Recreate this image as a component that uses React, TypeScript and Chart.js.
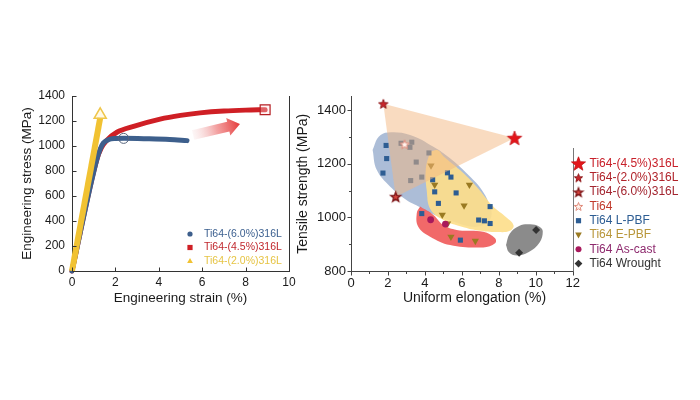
import React, { useEffect, useRef } from 'react';
import { Chart, registerables } from 'chart.js';
Chart.register(...registerables);

const FONT = "'Liberation Sans', Arial, Helvetica, sans-serif";

// ---------------- Left panel: engineering stress-strain curves ----------------
const curve6Strain = [0, 1.14, 1.3, 1.45, 1.7, 2.0, 2.4, 3.5, 4.5, 5.3];
const curve6Stress = [0, 890, 975, 1025, 1052, 1060, 1062, 1058, 1052, 1043];
const curve45Strain = [0, 1.14, 1.35, 1.6, 2.07, 2.84, 4.06, 5.0, 5.9, 7.0, 8.0, 8.9];
const curve45Stress = [0, 890, 985, 1045, 1110, 1157, 1215, 1245, 1265, 1280, 1287, 1290];
const curve20Strain = [0, 1.3];
const curve20Stress = [0, 1225];
const endMark6 = [2.38, 1061];
const endMark45 = [8.9, 1290];
const endMark20 = [1.3, 1250];
const arrowTail = [5.58, 1088];
const arrowTip = [7.74, 1176];
const leftXTicks = [0, 2, 4, 6, 8, 10];
const leftYTicks = [0, 200, 400, 600, 800, 1000, 1200, 1400];
const leftLegendLabels = ['Ti64-(6.0%)316L', 'Ti64-(4.5%)316L', 'Ti64-(2.0%)316L'];

// ---------------- Right panel: tensile strength vs uniform elongation ----------------
const lpbfX = [1.9, 1.93, 1.73, 2.71, 3.19, 3.29, 3.53, 3.83, 3.23, 4.22, 4.42, 4.53, 4.73, 3.83, 5.22, 5.41, 5.69, 7.53, 6.91, 7.22, 7.53, 5.92];
const lpbfY = [1268, 1219, 1165, 1276, 1261, 1280, 1206, 1150, 1137, 1240, 1140, 1095, 1052, 1014, 1166, 1150, 1091, 1040, 990, 987, 977, 915];
const epbfX = [4.33, 4.53, 6.41, 6.12, 4.94, 5.23, 5.41, 6.73];
const epbfY = [1193, 1121, 1121, 1044, 1009, 977, 927, 912];
const castX = [4.31, 5.11];
const castY = [991, 975];
const wroughtX = [10.02, 9.1];
const wroughtY = [953, 868];
const comp45 = [8.85, 1296];
const comp20 = [1.75, 1423];
const comp60 = [2.42, 1077];
const ti64Star = [2.9, 1272];

// shaded regions (outline points)
const triangleX = [1.75, 8.85, 2.42, 1.75];
const triangleY = [1423, 1296, 1077, 1423];
const blueRegionX = [1.17, 1.5, 2.0, 3.2, 4.46, 5.36, 6.26, 7.08, 7.53, 7.6, 7.3, 6.5, 5.5, 4.5, 3.74, 3.0, 2.11, 1.39, 1.17];
const blueRegionY = [1251, 1300, 1316, 1307, 1263, 1220, 1164, 1102, 1040, 1005, 975, 965, 985, 1010, 1038, 1065, 1115, 1177, 1251];
const yellowRegionX = [4.28, 4.7, 5.0, 5.9, 6.8, 7.7, 8.4, 8.8, 8.6, 8.0, 7.0, 6.0, 5.0, 4.3, 4.1, 4.05, 4.28];
const yellowRegionY = [1245, 1250, 1228, 1176, 1114, 1040, 1000, 970, 950, 945, 950, 965, 990, 1030, 1100, 1180, 1245];
const redRegionX = [3.74, 4.46, 5.0, 5.72, 7.16, 7.8, 7.8, 7.16, 5.36, 4.28, 3.64, 3.56, 3.74];
const redRegionY = [1040, 1009, 971, 953, 946, 922, 903, 888, 897, 928, 965, 1015, 1040];
const grayRegionX = [8.39, 8.6, 9.1, 9.69, 10.2, 10.38, 10.2, 9.6, 8.97, 8.55, 8.39];
const grayRegionY = [897, 940, 968, 974, 965, 947, 905, 870, 858, 870, 897];

const rightXTicks = [0, 2, 4, 6, 8, 10, 12];
const rightXMinor = [1, 3, 5, 7, 9, 11];
const rightYTicks = [800, 1000, 1200, 1400];
const rightYMinor = [900, 1100, 1300];
const rightLegendLabels = ['Ti64-(4.5%)316L', 'Ti64-(2.0%)316L', 'Ti64-(6.0%)316L', 'Ti64', 'Ti64 L-PBF', 'Ti64 E-PBF', 'Ti64 As-cast', 'Ti64 Wrought'];

const pts = (xs: number[], ys: number[]) => xs.map((x, i) => ({ x, y: ys[i] }));

function makeStar(R: number, fill: string, stroke: string, lw: number) {
  const pad = Math.ceil(lw) + 1;
  const s = Math.ceil(2 * R + 2 * pad);
  const c = document.createElement('canvas');
  c.width = s;
  c.height = s;
  const g = c.getContext('2d') as CanvasRenderingContext2D;
  const cx = s / 2;
  const cy = s / 2 + R * 0.095;
  g.beginPath();
  for (let i = 0; i < 10; i++) {
    const r = i % 2 === 0 ? R : R * 0.42;
    const a = -Math.PI / 2 + (i * Math.PI) / 5;
    g.lineTo(cx + r * Math.cos(a), cy + r * Math.sin(a));
  }
  g.closePath();
  g.fillStyle = fill;
  g.fill();
  if (lw > 0) {
    g.lineWidth = lw;
    g.strokeStyle = stroke;
    g.stroke();
  }
  return c;
}

function drawMarker(ctx: CanvasRenderingContext2D, kind: any, x: number, y: number, color: string, r: number) {
  ctx.save();
  ctx.fillStyle = color;
  ctx.beginPath();
  if (typeof kind !== 'string') {
    ctx.drawImage(kind, x - kind.width / 2, y - kind.height / 2);
    ctx.restore();
    return;
  }
  if (kind === 'circle') ctx.arc(x, y, r, 0, Math.PI * 2);
  else if (kind === 'rect') ctx.rect(x - r, y - r, 2 * r, 2 * r);
  else if (kind === 'triangle') {
    ctx.moveTo(x, y - r * 1.15);
    ctx.lineTo(x + r * 1.1, y + r * 0.8);
    ctx.lineTo(x - r * 1.1, y + r * 0.8);
  } else if (kind === 'triangleDown') {
    ctx.moveTo(x, y + r * 1.15);
    ctx.lineTo(x + r * 1.1, y - r * 0.8);
    ctx.lineTo(x - r * 1.1, y - r * 0.8);
  } else if (kind === 'diamond') {
    ctx.moveTo(x, y - r * 1.3);
    ctx.lineTo(x + r * 1.3, y);
    ctx.lineTo(x, y + r * 1.3);
    ctx.lineTo(x - r * 1.3, y);
  }
  ctx.closePath();
  ctx.fill();
  ctx.restore();
}

const mkTicksPlugin = (id: string, cfg: any) => ({
  id,
  afterDraw(chart: any) {
    const { ctx, chartArea: a, scales } = chart;
    ctx.save();
    ctx.strokeStyle = cfg.color;
    ctx.lineWidth = 1;
    const s = cfg.inward ? -1 : 1;
    const line = (x1: number, y1: number, x2: number, y2: number) => {
      ctx.beginPath();
      ctx.moveTo(x1, y1);
      ctx.lineTo(x2, y2);
      ctx.stroke();
    };
    const bottom = Math.round(a.bottom) + 0.5;
    const left = Math.round(a.left) + 0.5;
    ([[cfg.xMajor, cfg.major], [cfg.xMinor, cfg.minor]] as any[]).forEach(([vals, len]) =>
      vals.forEach((v: number) => {
        const x = Math.round(scales.x.getPixelForValue(v)) + 0.5;
        line(x, bottom, x, bottom + s * len);
      })
    );
    ([[cfg.yMajor, cfg.major], [cfg.yMinor, cfg.minor]] as any[]).forEach(([vals, len]) =>
      vals.forEach((v: number) => {
        const y = Math.round(scales.y.getPixelForValue(v)) + 0.5;
        line(left, y, left - s * len, y);
      })
    );
    if (cfg.rightBorder) {
      const r = Math.round(a.right) + 0.5;
      line(r, a.top, r, bottom);
    }
    ctx.restore();
  },
});

function axisFont(size: number) {
  return { family: FONT, size };
}

export default function App() {
  const leftRef = useRef<HTMLCanvasElement>(null);
  const rightRef = useRef<HTMLCanvasElement>(null);

  useEffect(() => {
    const BLUE = '#3d5f8c';
    const RED = '#cf1f25';
    const YELLOW = '#f1c232';

    const leftLegendPlugin = {
      id: 'leftExtras',
      afterDatasetsDraw(chart: any) {
        const { ctx, scales } = chart;
        // gradient arrow
        const x0 = scales.x.getPixelForValue(arrowTail[0]);
        const y0 = scales.y.getPixelForValue(arrowTail[1]);
        const x1 = scales.x.getPixelForValue(arrowTip[0]);
        const y1 = scales.y.getPixelForValue(arrowTip[1]);
        const L = Math.hypot(x1 - x0, y1 - y0);
        const ang = Math.atan2(y1 - y0, x1 - x0);
        ctx.save();
        ctx.translate(x0, y0);
        ctx.rotate(ang);
        const grad = ctx.createLinearGradient(0, 0, L, 0);
        grad.addColorStop(0, 'rgba(245,220,220,0.25)');
        grad.addColorStop(0.5, 'rgba(240,140,140,0.8)');
        grad.addColorStop(1, '#e53a3a');
        const hl = 12, sw = 10, hw = 18;
        ctx.beginPath();
        ctx.moveTo(0, -sw / 2);
        ctx.lineTo(L - hl, -sw / 2);
        ctx.lineTo(L - hl, -hw / 2);
        ctx.lineTo(L, 0);
        ctx.lineTo(L - hl, hw / 2);
        ctx.lineTo(L - hl, sw / 2);
        ctx.lineTo(0, sw / 2);
        ctx.closePath();
        ctx.fillStyle = grad;
        ctx.fill();
        ctx.restore();
        // legend
        const kinds = ['circle', 'rect', 'triangle'];
        const markColors = [BLUE, RED, YELLOW];
        const textColors = ['#3b5f8f', '#c0272d', '#e6c444'];
        ctx.save();
        ctx.font = `10.5px ${FONT}`;
        ctx.textBaseline = 'middle';
        leftLegendLabels.forEach((lab, i) => {
          const y = 234 + i * 13.5;
          drawMarker(ctx, kinds[i], 190, y, markColors[i], 2.6);
          ctx.fillStyle = textColors[i];
          ctx.fillText(lab, 204, y);
        });
        ctx.restore();
      },
    };

    const leftChart = new Chart(leftRef.current as HTMLCanvasElement, {
      type: 'line',
      data: {
        datasets: [
          { data: pts([endMark6[0]], [endMark6[1]]), showLine: false, pointStyle: 'circle', pointRadius: 5, borderColor: '#56637a', borderWidth: 1, backgroundColor: 'rgba(0,0,0,0)', order: 0, clip: false },
          { data: pts([endMark45[0]], [endMark45[1]]), showLine: false, pointStyle: 'rect', pointRadius: 7, borderColor: '#b51f24', borderWidth: 1.2, backgroundColor: 'rgba(255,220,220,0.35)', order: 0, clip: false },
          { data: pts([endMark20[0]], [endMark20[1]]), showLine: false, pointStyle: 'triangle', pointRadius: 7, borderColor: '#efc64a', borderWidth: 1.5, backgroundColor: 'rgba(255,245,215,0.6)', order: 0, clip: false },
          { data: pts(curve20Strain, curve20Stress), borderColor: YELLOW, borderWidth: 6, pointRadius: 0, borderCapStyle: 'butt', order: 1, clip: false },
          { data: pts(curve6Strain, curve6Stress), borderColor: BLUE, borderWidth: 5, pointRadius: 0, cubicInterpolationMode: 'monotone', borderCapStyle: 'round', order: 2, clip: false },
          { data: pts(curve45Strain, curve45Stress), borderColor: RED, borderWidth: 5, pointRadius: 0, cubicInterpolationMode: 'monotone', borderCapStyle: 'round', order: 3, clip: false },
        ] as any,
      },
      options: {
        responsive: false,
        animation: false,
        events: [],
        layout: { padding: { left: 0, top: 96, right: 11, bottom: 89 } },
        plugins: { legend: { display: false }, tooltip: { enabled: false } },
        scales: {
          x: {
            type: 'linear', min: 0, max: 10,
            afterFit: (s: any) => { s.height = 40; },
            afterBuildTicks: (s: any) => { s.ticks = leftXTicks.map((v) => ({ value: v })); },
            grid: { display: false, drawTicks: false },
            border: { display: true, color: '#333', width: 1 },
            ticks: { padding: 4, color: '#1a1a1a', font: axisFont(12), callback: (v: any) => String(v), maxRotation: 0 },
            title: { display: true, text: 'Engineering strain (%)', color: '#1a1a1a', font: axisFont(13.5), padding: { top: 0, bottom: 5 } },
          },
          y: {
            type: 'linear', min: 0, max: 1400,
            afterFit: (s: any) => { s.width = 72; },
            afterBuildTicks: (s: any) => { s.ticks = leftYTicks.map((v) => ({ value: v })); },
            grid: { display: false, drawTicks: false },
            border: { display: true, color: '#333', width: 1 },
            ticks: { padding: 7, color: '#1a1a1a', font: axisFont(12), callback: (v: any) => String(v) },
            title: { display: true, text: 'Engineering stress (MPa)', color: '#1a1a1a', font: axisFont(13.5), padding: { top: 19, bottom: 0 } },
          },
        },
      } as any,
      plugins: [
        leftLegendPlugin,
        mkTicksPlugin('leftTicks', { inward: true, color: '#333', major: 4, minor: 2, xMajor: leftXTicks, xMinor: [], yMajor: leftYTicks, yMinor: [], rightBorder: true }),
      ] as any,
    });

    // ---------------- right chart ----------------
    const star45 = makeStar(7.6, '#e3161b', '#c40f14', 0.8);
    const star20 = makeStar(4.9, '#c9262b', '#8e1a1c', 1);
    const star60 = makeStar(5.1, '#d8473f', '#7d1416', 1.4);
    const starTi = makeStar(4.8, '#fff4ee', '#e08a7a', 1);
    const lStar45 = makeStar(7.4, '#e3161b', '#c40f14', 0.8);
    const lStar20 = makeStar(4.4, '#c9262b', '#8e1a1c', 1);
    const lStar60 = makeStar(4.6, '#d8473f', '#7d1416', 1.3);
    const lStarTi = makeStar(4.4, '#fff4ee', '#e08a7a', 1);

    const region = (xs: number[], ys: number[], color: string, order: number, tension = 0.4) => ({
      data: pts(xs, ys), showLine: true, fill: 'shape', backgroundColor: color,
      borderColor: 'rgba(0,0,0,0)', borderWidth: 0, pointRadius: 0, tension, order,
    });
    const marks = (xs: number[], ys: number[], style: any, r: number, color: string, order: number, rotation = 0) => ({
      data: pts(xs, ys), showLine: false, pointStyle: style, pointRadius: r, pointRotation: rotation,
      backgroundColor: color, borderColor: color, borderWidth: 0, order, clip: false,
    });

    const rightExtras = {
      id: 'rightExtras',
      afterDraw(chart: any) {
        const { ctx, chartArea: a } = chart;
        ctx.save();
        // x axis title (offset as in the figure)
        ctx.font = `14px ${FONT}`;
        ctx.fillStyle = '#1a1a1a';
        ctx.textAlign = 'center';
        ctx.textBaseline = 'middle';
        ctx.fillText('Uniform elongation (%)', 474.5 - 285, 298);
        // legend frame edge
        const bx = Math.round(a.right) + 0.5;
        ctx.strokeStyle = '#777';
        ctx.lineWidth = 1;
        ctx.beginPath();
        ctx.moveTo(bx, 148);
        ctx.lineTo(bx, 272);
        ctx.stroke();
        // legend
        const kinds: any[] = [lStar45, lStar20, lStar60, lStarTi, 'rect', 'triangleDown', 'circle', 'diamond'];
        const mColors = ['', '', '', '', '#2d5d93', '#9a7a22', '#a8195c', '#333333'];
        const tColors = ['#c8202a', '#b0232a', '#a32530', '#c0392b', '#2d5d93', '#b8963a', '#8e2a6e', '#333333'];
        ctx.font = `12px ${FONT}`;
        ctx.textAlign = 'left';
        rightLegendLabels.forEach((lab, i) => {
          const y = 163.5 + i * 14.3;
          drawMarker(ctx, kinds[i], 293.5, y, mColors[i], kinds[i] === 'rect' ? 2.6 : 3);
          ctx.fillStyle = tColors[i];
          ctx.fillText(lab, 304.5, y);
        });
        ctx.restore();
      },
    };

    const rightChart = new Chart(rightRef.current as HTMLCanvasElement, {
      type: 'line',
      data: {
        datasets: [
          region(blueRegionX, blueRegionY, 'rgba(112,142,186,0.58)', 20),
          region(yellowRegionX, yellowRegionY, 'rgba(253,222,140,0.92)', 19),
          region(redRegionX, redRegionY, 'rgba(238,72,72,0.82)', 18),
          region(grayRegionX, grayRegionY, 'rgba(110,110,110,0.8)', 17),
          marks(lpbfX, lpbfY, 'rect', 3.6, '#2d5d93', 10),
          marks(epbfX, epbfY, 'triangle', 4.2, '#9a7a22', 9, 180),
          marks(castX, castY, 'circle', 3.4, '#a8195c', 8),
          marks(wroughtX, wroughtY, 'rectRot', 4, '#333333', 7),
          region(triangleX, triangleY, 'rgba(244,184,130,0.5)', 5, 0),
          marks([ti64Star[0]], [ti64Star[1]], starTi, 5, '#e08a7a', 3),
          marks([comp60[0]], [comp60[1]], star60, 5, '#a32530', 2),
          marks([comp20[0]], [comp20[1]], star20, 5, '#b0232a', 1),
          marks([comp45[0]], [comp45[1]], star45, 5, '#e3161b', 0),
        ] as any,
      },
      options: {
        responsive: false,
        animation: false,
        events: [],
        layout: { padding: { left: 0, top: 96.6, right: 127.3, bottom: 89 } },
        plugins: { legend: { display: false }, tooltip: { enabled: false } },
        scales: {
          x: {
            type: 'linear', min: 0, max: 12,
            afterFit: (s: any) => { s.height = 40; },
            afterBuildTicks: (s: any) => { s.ticks = rightXTicks.map((v) => ({ value: v })); },
            grid: { display: false, drawTicks: false },
            border: { display: true, color: '#444', width: 1 },
            ticks: { padding: 5, color: '#1a1a1a', font: axisFont(13), callback: (v: any) => String(v), maxRotation: 0 },
          },
          y: {
            type: 'linear', min: 800, max: 1450,
            afterFit: (s: any) => { s.width = 66; },
            afterBuildTicks: (s: any) => { s.ticks = rightYTicks.map((v) => ({ value: v })); },
            grid: { display: false, drawTicks: false },
            border: { display: true, color: '#444', width: 1 },
            ticks: { padding: 5, color: '#1a1a1a', font: axisFont(13), callback: (v: any) => String(v) },
            title: { display: true, text: 'Tensile strength (MPa)', color: '#1a1a1a', font: axisFont(14), padding: { top: 9.6, bottom: 0 } },
          },
        },
      } as any,
      plugins: [
        rightExtras,
        mkTicksPlugin('rightTicks', { inward: false, color: '#444', major: 4, minor: 2.5, xMajor: rightXTicks, xMinor: rightXMinor, yMajor: rightYTicks, yMinor: rightYMinor, rightBorder: false }),
      ] as any,
    });

    return () => {
      leftChart.destroy();
      rightChart.destroy();
    };
  }, []);

  return (
    <div style={{ position: 'fixed', left: 0, top: 0, width: 700, height: 400, background: '#ffffff', overflow: 'hidden' }}>
      <canvas ref={leftRef} width={300} height={400} style={{ position: 'absolute', left: 0, top: 0 }} />
      <canvas ref={rightRef} width={415} height={400} style={{ position: 'absolute', left: 285, top: 0 }} />
    </div>
  );
}
